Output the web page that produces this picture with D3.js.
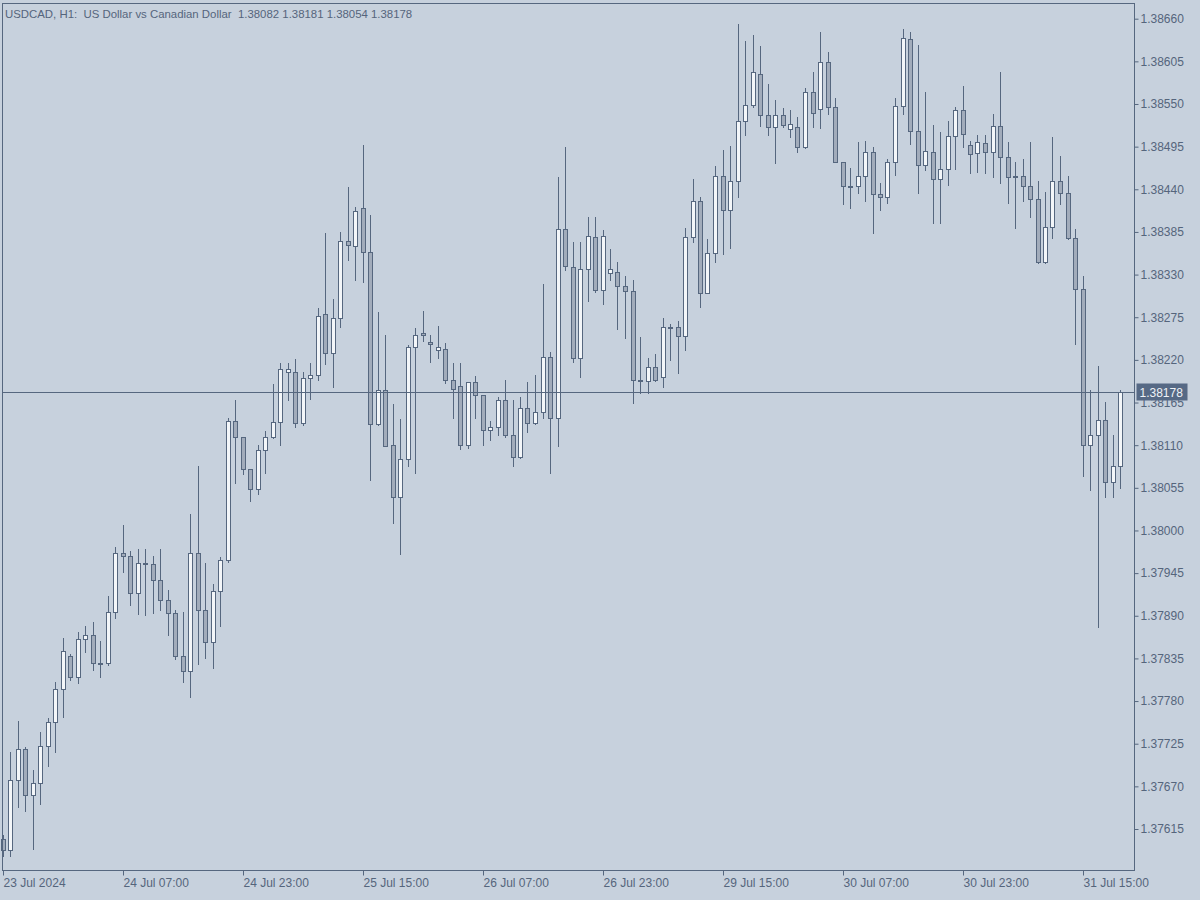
<!DOCTYPE html>
<html>
<head>
<meta charset="utf-8">
<script src="https://cdn.jsdelivr.net/npm/d3@7"></script>
<style>
body { margin: 0; background: #c7d1dd; }
svg text { font-family: "Liberation Sans", Arial, sans-serif; }
</style>
</head>
<body>
<div id="chart"></div>
<script>
// USDCAD H1 candles (oldest first)
const open = [1.37602,1.37587,1.37677,1.37718,1.37658,1.37674,1.37721,1.37752,1.37795,1.37837,
1.37810,1.37860,1.37864,1.37829,1.37828,1.37894,1.37970,1.37967,1.37919,1.37957,
1.37956,1.37935,1.37910,1.37893,1.37838,1.37818,1.37970,1.37897,1.37856,1.37921,
1.37961,1.38141,1.38120,1.38078,1.38053,1.38103,1.38120,1.38139,1.38204,1.38204,
1.38138,1.38196,1.38200,1.38278,1.38228,1.38273,1.38373,1.38366,1.38415,1.38358,
1.38137,1.38180,1.38110,1.38042,1.38092,1.38236,1.38254,1.38243,1.38232,1.38234,
1.38193,1.38186,1.38110,1.38191,1.38174,1.38129,1.38133,1.38168,1.38123,1.38094,
1.38157,1.38138,1.38152,1.38223,1.38144,1.38388,1.38339,1.38222,1.38336,1.38378,
1.38309,1.38332,1.38333,1.38315,1.38308,1.38193,1.38192,1.38210,1.38197,1.38262,
1.38262,1.38250,1.38378,1.38424,1.38306,1.38357,1.38457,1.38413,1.38450,1.38528,
1.38548,1.38588,1.38535,1.38520,1.38535,1.38517,1.38520,1.38494,1.38565,1.38543,
1.38604,1.38546,1.38475,1.38444,1.38443,1.38457,1.38488,1.38433,1.38430,1.38475,
1.38547,1.38633,1.38515,1.38471,1.38488,1.38453,1.38465,1.38508,1.38541,1.38497,
1.38486,1.38499,1.38487,1.38521,1.38481,1.38455,1.38456,1.38444,1.38427,1.38345,
1.38391,1.38450,1.38434,1.38377,1.38311,1.38110,1.38122,1.38142,1.38062,1.38082];

const high = [1.37607,1.37714,1.37753,1.37720,1.37690,1.37740,1.37757,1.37804,1.37861,1.37840,
1.37868,1.37876,1.37881,1.37857,1.37915,1.37978,1.38006,1.37973,1.37975,1.37975,
1.37966,1.37976,1.37923,1.37897,1.37894,1.38020,1.38082,1.37958,1.37930,1.37965,
1.38145,1.38168,1.38120,1.38078,1.38110,1.38128,1.38188,1.38215,1.38215,1.38220,
1.38204,1.38215,1.38286,1.38383,1.38298,1.38384,1.38442,1.38417,1.38496,1.38406,
1.38281,1.38252,1.38162,1.38143,1.38239,1.38260,1.38282,1.38252,1.38263,1.38241,
1.38215,1.38215,1.38191,1.38198,1.38174,1.38141,1.38171,1.38194,1.38168,1.38171,
1.38191,1.38200,1.38317,1.38230,1.38455,1.38494,1.38372,1.38371,1.38403,1.38404,
1.38387,1.38362,1.38346,1.38328,1.38322,1.38249,1.38222,1.38227,1.38274,1.38265,
1.38270,1.38389,1.38452,1.38430,1.38375,1.38470,1.38490,1.38495,1.38652,1.38630,
1.38638,1.38624,1.38575,1.38554,1.38544,1.38542,1.38533,1.38570,1.38590,1.38642,
1.38616,1.38557,1.38475,1.38467,1.38500,1.38501,1.38494,1.38448,1.38479,1.38557,
1.38646,1.38642,1.38625,1.38565,1.38522,1.38513,1.38528,1.38546,1.38572,1.38502,
1.38509,1.38509,1.38536,1.38591,1.38500,1.38475,1.38478,1.38500,1.38450,1.38436,
1.38507,1.38482,1.38457,1.38388,1.38328,1.38181,1.38212,1.38165,1.38123,1.38181];

const low = [1.37579,1.37579,1.37643,1.37638,1.37588,1.37646,1.37696,1.37714,1.37759,1.37806,
1.37803,1.37842,1.37819,1.37811,1.37826,1.37886,1.37946,1.37903,1.37892,1.37890,
1.37893,1.37897,1.37864,1.37833,1.37804,1.37784,1.37827,1.37835,1.37822,1.37876,
1.37959,1.38061,1.38072,1.38037,1.38047,1.38073,1.38119,1.38110,1.38167,1.38133,
1.38136,1.38169,1.38193,1.38214,1.38185,1.38262,1.38348,1.38322,1.38320,1.38065,
1.38136,1.38108,1.38009,1.37969,1.38083,1.38073,1.38244,1.38216,1.38222,1.38189,
1.38144,1.38105,1.38106,1.38144,1.38110,1.38116,1.38122,1.38120,1.38082,1.38093,
1.38126,1.38137,1.38145,1.38074,1.38108,1.38335,1.38216,1.38197,1.38295,1.38307,
1.38291,1.38322,1.38259,1.38248,1.38164,1.38176,1.38176,1.38192,1.38185,1.38219,
1.38202,1.38232,1.38372,1.38288,1.38306,1.38346,1.38356,1.38364,1.38429,1.38510,
1.38546,1.38521,1.38510,1.38473,1.38520,1.38507,1.38487,1.38493,1.38520,1.38519,
1.38537,1.38474,1.38420,1.38415,1.38435,1.38424,1.38383,1.38413,1.38422,1.38458,
1.38537,1.38498,1.38435,1.38464,1.38396,1.38396,1.38445,1.38466,1.38494,1.38460,
1.38462,1.38461,1.38455,1.38448,1.38422,1.38390,1.38424,1.38403,1.38344,1.38344,
1.38377,1.38421,1.38375,1.38240,1.38070,1.38051,1.37875,1.38043,1.38042,1.38054];

const close = [1.37587,1.37677,1.37718,1.37658,1.37674,1.37721,1.37752,1.37795,1.37844,1.37810,
1.37860,1.37864,1.37829,1.37828,1.37894,1.37970,1.37967,1.37919,1.37957,1.37956,
1.37935,1.37910,1.37893,1.37838,1.37818,1.37970,1.37897,1.37856,1.37921,1.37961,
1.38141,1.38120,1.38078,1.38053,1.38103,1.38120,1.38139,1.38207,1.38208,1.38138,
1.38196,1.38200,1.38276,1.38228,1.38273,1.38373,1.38368,1.38412,1.38358,1.38137,
1.38180,1.38108,1.38042,1.38092,1.38236,1.38251,1.38252,1.38240,1.38236,1.38193,
1.38182,1.38110,1.38191,1.38174,1.38129,1.38133,1.38168,1.38123,1.38094,1.38157,
1.38138,1.38152,1.38223,1.38144,1.38388,1.38340,1.38222,1.38336,1.38379,1.38309,
1.38379,1.38336,1.38315,1.38308,1.38193,1.38192,1.38210,1.38194,1.38262,1.38260,
1.38250,1.38378,1.38424,1.38306,1.38357,1.38457,1.38413,1.38450,1.38528,1.38548,
1.38590,1.38535,1.38520,1.38535,1.38522,1.38524,1.38494,1.38565,1.38538,1.38604,
1.38546,1.38475,1.38444,1.38443,1.38457,1.38488,1.38433,1.38429,1.38475,1.38547,
1.38634,1.38515,1.38471,1.38489,1.38453,1.38465,1.38508,1.38541,1.38511,1.38485,
1.38500,1.38487,1.38521,1.38481,1.38455,1.38456,1.38444,1.38427,1.38345,1.38391,
1.38450,1.38434,1.38377,1.38311,1.38110,1.38122,1.38142,1.38062,1.38082,1.38178];

// time axis: bar index of each label and its text
const timeTickBars = [0, 16, 32, 48, 64, 80, 96, 112, 128, 144];
const timeTickLabels = ["23 Jul 2024", "24 Jul 07:00", "24 Jul 23:00", "25 Jul 15:00", "26 Jul 07:00",
  "26 Jul 23:00", "29 Jul 15:00", "30 Jul 07:00", "30 Jul 23:00", "31 Jul 15:00"];

const priceTicks = [1.37615,1.37670,1.37725,1.37780,1.37835,1.37890,1.37945,1.38000,1.38055,1.38110,
  1.38165,1.38220,1.38275,1.38330,1.38385,1.38440,1.38495,1.38550,1.38605,1.38660];

const symbol = "USDCAD, H1:  US Dollar vs Canadian Dollar";

const width = 1200, height = 900;
const frame = { left: 2.5, top: 3.5, right: 1134.5, bottom: 870.5 };

const colors = {
  bg: "#c7d1dd",
  line: "#56677f",
  bull: "#f3f6f9",
  bear: "#a2acbb",
  text: "#55657c"
};

const data = open.map((o, i) => ({ i, o, h: high[i], l: low[i], c: close[i] }));

const xScale = d3.scaleLinear()
  .domain([0, data.length - 1])
  .range([2.5, 2.5 + 7.5 * (data.length - 1)]);

const yScale = d3.scaleLinear()
  .domain([1.37615, 1.38660])
  .range([828.5, 18.2]);

const px = v => Math.round(v) + 0.5;

const svg = d3.select("#chart")
  .append("svg")
  .attr("width", width)
  .attr("height", height);

svg.append("rect")
  .attr("width", width)
  .attr("height", height)
  .attr("fill", colors.bg);

// candles
const candles = svg.append("g").attr("class", "candles");

candles.selectAll("line.wick")
  .data(data)
  .join("line")
  .attr("class", "wick")
  .attr("x1", d => px(xScale(d.i)))
  .attr("x2", d => px(xScale(d.i)))
  .attr("y1", d => Math.round(yScale(d.h)))
  .attr("y2", d => Math.round(yScale(d.l)) + 1)
  .attr("stroke", colors.line)
  .attr("stroke-width", 1);

candles.selectAll("rect.body")
  .data(data)
  .join("rect")
  .attr("class", "body")
  .attr("x", d => px(xScale(d.i)) - 2)
  .attr("width", 4)
  .attr("y", d => Math.round(yScale(Math.max(d.o, d.c))) + 0.5)
  .attr("height", d => Math.max(1, Math.round(yScale(Math.min(d.o, d.c))) - Math.round(yScale(Math.max(d.o, d.c)))))
  .attr("fill", d => d.c >= d.o ? colors.bull : colors.bear)
  .attr("stroke", colors.line)
  .attr("stroke-width", 1);

// frame
svg.append("rect")
  .attr("x", frame.left)
  .attr("y", frame.top)
  .attr("width", frame.right - frame.left)
  .attr("height", frame.bottom - frame.top)
  .attr("fill", "none")
  .attr("stroke", colors.line);

// price axis
const yAxis = d3.axisRight(yScale)
  .tickValues(priceTicks)
  .tickFormat(d3.format(".5f"))
  .tickSize(4)
  .tickPadding(2);

const gy = svg.append("g")
  .attr("transform", `translate(${frame.right},0.5)`)
  .call(yAxis);
gy.select(".domain").remove();
gy.selectAll(".tick line").attr("stroke", colors.line);
gy.selectAll(".tick text")
  .attr("fill", colors.text)
  .style("font-size", "12px");

// time axis
const xAxis = d3.axisBottom(xScale)
  .tickValues(timeTickBars)
  .tickFormat((d, k) => timeTickLabels[k])
  .tickSize(5)
  .tickPadding(3);

const gx = svg.append("g")
  .attr("transform", `translate(0.5,${frame.bottom})`)
  .call(xAxis);
gx.select(".domain").remove();
gx.selectAll(".tick line").attr("stroke", colors.line);
gx.selectAll(".tick text")
  .attr("fill", colors.text)
  .attr("text-anchor", "start")
  .attr("x", 0)
  .style("font-size", "12px");

// last price line and tag
const last = data[data.length - 1];
const yLast = px(yScale(last.c));

svg.append("line")
  .attr("x1", frame.left)
  .attr("x2", frame.right)
  .attr("y1", yLast)
  .attr("y2", yLast)
  .attr("stroke", colors.line)
  .attr("stroke-width", 1);

svg.append("rect")
  .attr("x", frame.right + 2)
  .attr("y", yLast - 9)
  .attr("width", 51)
  .attr("height", 17)
  .attr("fill", "#566985");

svg.append("text")
  .attr("x", frame.right + 5)
  .attr("y", yLast)
  .attr("dy", "0.35em")
  .attr("fill", "#eef2f6")
  .style("font-size", "12px")
  .text(d3.format(".5f")(last.c));

// title
svg.append("text")
  .attr("x", 5)
  .attr("y", 18)
  .attr("fill", colors.text)
  .style("font-size", "11.4px")
  .style("white-space", "pre")
  .text(`${symbol}  ${[last.o, last.h, last.l, last.c].map(d3.format(".5f")).join(" ")}`);
</script>
</body>
</html>
